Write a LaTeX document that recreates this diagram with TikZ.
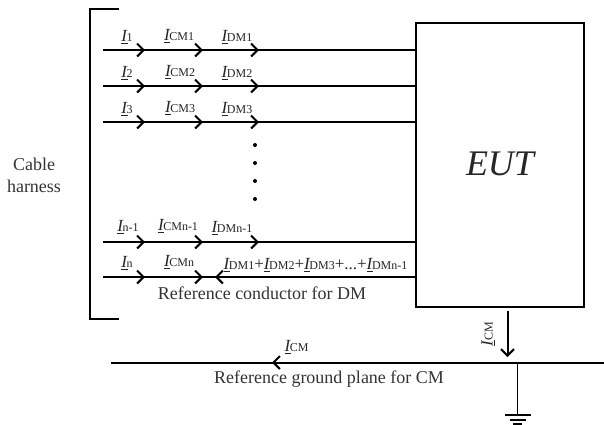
\documentclass[tikz,border=0pt]{standalone}
\usepackage{fontspec}
\setmainfont{Liberation Serif}
\usetikzlibrary{arrows.meta}
\newcommand{\Icur}[1]{\underline{\textit{I}}\kern-1pt{\fontsize{12}{12}\selectfont #1}}
\tikzset{
  wire/.style={line width=2pt},
  curhead/.style={line width=2pt,-{Straight Barb[length=6.5pt,width=13pt,line width=2pt]}},
  lbl/.style={font=\fontsize{17}{17}\selectfont,inner sep=0pt,text=black!85},
  reftxt/.style={font=\fontsize{18}{18}\selectfont,inner sep=0pt,text=black!80},
  captxt/.style={font=\fontsize{18}{22}\selectfont,inner sep=0pt,text=black!80,align=center}
}
\begin{document}
\begin{tikzpicture}[x=1pt,y=-1pt]
\useasboundingbox (0,0) rectangle (604,424);
% EUT box
\node[draw,line width=2.2pt,minimum width=168pt,minimum height=284pt,inner sep=0pt,anchor=north west] (eut) at (415,22) {};
\node[font=\fontsize{36}{36}\selectfont\itshape,text=black!85] (euttext) at (500,164) {EUT};
% bracket
\coordinate (bt) at (119,9); \coordinate (btc) at (90,9);
\coordinate (bbc) at (90,319); \coordinate (bb) at (119,319);
\draw[line width=2.2pt] (bt) -- (btc) -- (bbc) -- (bb);
\node[captxt] (harness) at (34,175) {Cable\\harness};
% wires
\foreach \n/\y in {a/50,b/86,c/122,d/242,e/277}{
  \coordinate (w\n) at (103,\y);
  \coordinate (e\n) at (415,\y);
  \draw[wire] (w\n) -- (e\n);
  \coordinate (h1\n) at (145,\y);
  \coordinate (h2\n) at (203,\y);
  \coordinate (h3\n) at (259,\y);
  \draw[curhead] (w\n) -- (h1\n);
  \draw[curhead] (h1\n) -- (h2\n);
}
\foreach \n in {a,b,c,d}{\draw[curhead] (h2\n) -- (h3\n);}
\coordinate (h4) at (215,277);
\draw[curhead] (ee) -- (h4);
% labels
\node[lbl] (l1) at (127,37) {\Icur{1}};
\node[lbl] (l2) at (127,73) {\Icur{2}};
\node[lbl] (l3) at (127,109) {\Icur{3}};
\node[lbl] (c1) at (179,36) {\Icur{CM1}};
\node[lbl] (c2) at (180,72) {\Icur{CM2}};
\node[lbl] (c3) at (180,108) {\Icur{CM3}};
\node[lbl] (d1) at (237,37) {\Icur{DM1}};
\node[lbl] (d2) at (237,73) {\Icur{DM2}};
\node[lbl] (d3) at (237,109) {\Icur{DM3}};
\node[lbl] (ln1) at (128,227) {\Icur{n-1}};
\node[lbl] (cn1) at (178,226) {\Icur{CMn-1}};
\node[lbl] (dn1) at (232,228) {\Icur{DMn-1}};
\node[lbl] (ln) at (127,263) {\Icur{n}};
\node[lbl] (cn) at (179,262) {\Icur{CMn}};
\node[lbl] (dsum) at (315.5,265) {\Icur{DM1}+\Icur{DM2}+\Icur{DM3}+...+\Icur{DMn-1}};
\node[reftxt] (refdm) at (262,293) {Reference conductor for DM};
% dots
\foreach \y in {145,163,181,199}{\fill (255,\y) circle (2pt);}
% ground plane
\coordinate (gl) at (111,362.5); \coordinate (gr) at (604,362.5);
\draw[wire] (gr) -- (gl);
\coordinate (gh) at (272,362.5);
\draw[curhead] (gr) -- (gh);
\node[lbl] (icm) at (296.5,347) {\Icur{CM}};
\node[reftxt] (refgnd) at (329,379) {Reference ground plane for CM};
% vertical ICM
\coordinate (vt) at (507.5,311); \coordinate (vb) at (507.5,357);
\draw[curhead] (vt) -- (vb);
\node[lbl,rotate=90] (icmv) at (488,334) {\Icur{CM}};
% ground
\coordinate (g0) at (517.5,362.5); \coordinate (g1) at (517.5,415);
\draw[line width=1.6pt] (g0) -- (g1);
\draw[line width=2pt] (505,415) -- (531,415);
\draw[line width=2pt] (510,420) -- (526,420);
\draw[line width=2pt] (513,424) -- (522,424);
\end{tikzpicture}
\end{document}
